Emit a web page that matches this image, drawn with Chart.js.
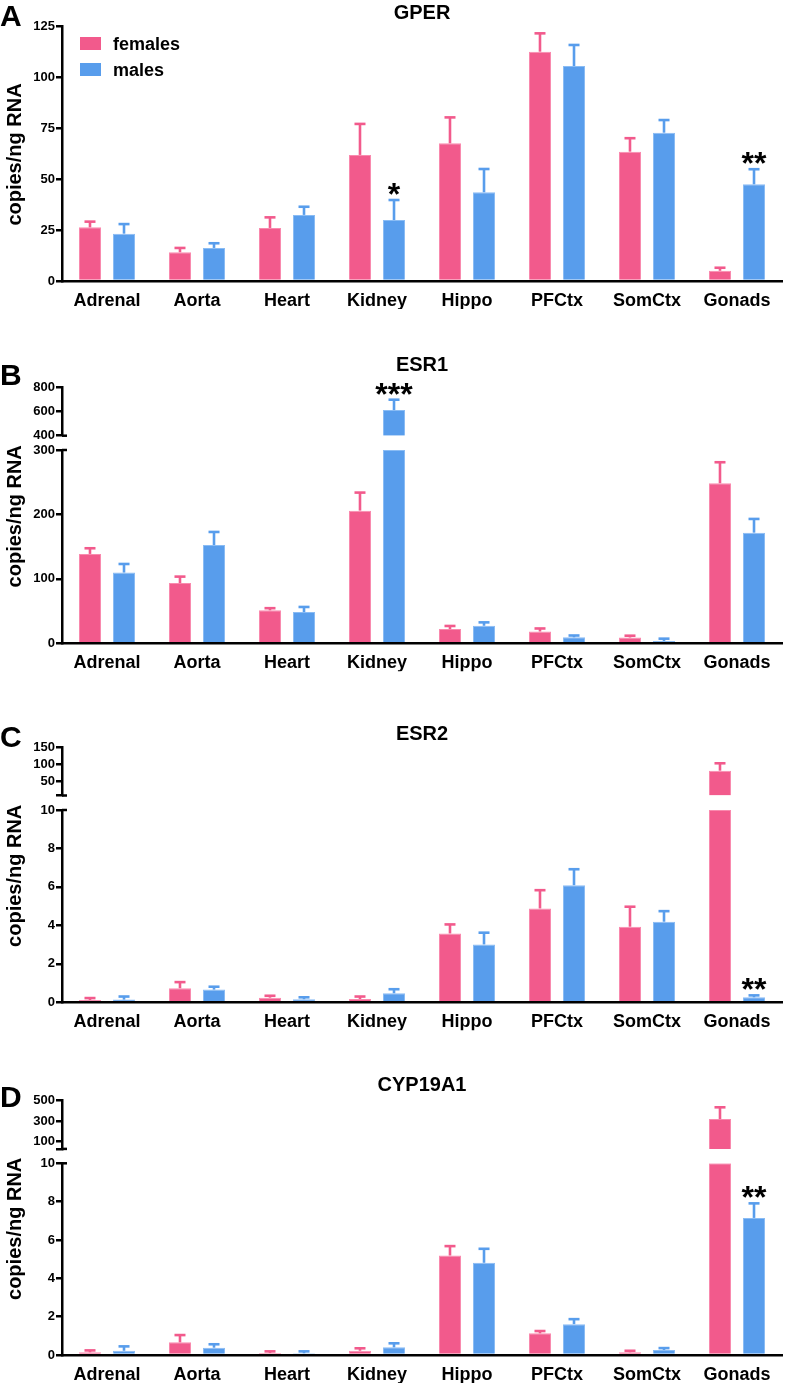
<!DOCTYPE html>
<html><head><meta charset="utf-8">
<script src="https://cdn.jsdelivr.net/npm/chart.js@4.4.1/dist/chart.umd.min.js"></script>
<style>
html,body{margin:0;padding:0;background:#fff;}
#wrap{position:relative;width:785px;height:1385px;overflow:hidden;background:#fff;}
canvas{position:absolute;left:0;}
</style></head><body>
<div id="wrap">
<canvas id="cA" width="785" height="330" style="top:0px"></canvas>
<canvas id="cB" width="785" height="360" style="top:330px"></canvas>
<canvas id="cC" width="785" height="360" style="top:690px"></canvas>
<canvas id="cD" width="785" height="335" style="top:1050px"></canvas>
</div>
<script>
// ---------------- DATA ----------------
const categories = ['Adrenal', 'Aorta', 'Heart', 'Kidney', 'Hippo', 'PFCtx', 'SomCtx', 'Gonads'];
const seriesLabels = ['females', 'males'];
const yAxisTitle = 'copies/ng RNA';

// GPER (mean, mean+SEM)
const gperFemale    = [26.3, 14.1, 26.0, 61.8, 67.5, 112.4, 63.4, 5.0];
const gperFemaleErr = [29.1, 16.2, 31.2, 77.0, 80.2, 121.4, 70.0, 6.5];
const gperMale      = [23.2, 16.2, 32.4, 29.9, 43.5, 105.4, 72.7, 47.4];
const gperMaleErr   = [27.9, 18.5, 36.4, 39.7, 54.9, 115.7, 78.9, 54.8];
const gperSig       = ['', '', '', '*', '', '', '', '**'];
const gperTicks     = [0, 25, 50, 75, 100, 125];

// ESR1
const esr1Female    = [138.7, 93.4, 51.2, 205.9, 22.0, 18.3, 9.0, 248.4];
const esr1FemaleErr = [147.5, 103.5, 54.5, 233.9, 26.9, 23.0, 11.8, 281.0];
const esr1Male      = [109.8, 152.6, 48.4, 612.0, 27.2, 9.3, 3.6, 171.7];
const esr1MaleErr   = [123.1, 172.8, 56.4, 697.5, 32.5, 12.1, 7.2, 193.0];
const esr1Sig       = ['', '', '', '***', '', '', '', ''];
const esr1LowerTicks = [0, 100, 200, 300];
const esr1UpperTicks = [400, 600, 800];

// ESR2
const esr2Female    = [0.12, 0.73, 0.24, 0.17, 3.58, 4.88, 3.93, 82.0];
const esr2FemaleErr = [0.22, 1.05, 0.34, 0.30, 4.05, 5.83, 4.97, 103.6];
const esr2Male      = [0.14, 0.66, 0.16, 0.47, 3.01, 6.09, 4.19, 0.26];
const esr2MaleErr   = [0.30, 0.81, 0.26, 0.68, 3.62, 6.92, 4.74, 0.36];
const esr2Sig       = ['', '', '', '', '', '', '', '**'];
const esr2LowerTicks = [0, 2, 4, 6, 8, 10];
const esr2UpperTicks = [50, 100, 150];
const esr2UpperMin = 10;

// CYP19A1
const cypFemale    = [0.14, 0.66, 0.10, 0.22, 5.19, 1.13, 0.14, 321.0];
const cypFemaleErr = [0.24, 1.04, 0.19, 0.35, 5.68, 1.25, 0.22, 435.6];
const cypMale      = [0.22, 0.38, 0.09, 0.40, 4.81, 1.61, 0.26, 7.15];
const cypMaleErr   = [0.45, 0.56, 0.19, 0.61, 5.54, 1.87, 0.36, 7.91];
const cypSig       = ['', '', '', '', '', '', '', '**'];
const cypLowerTicks = [0, 2, 4, 6, 8, 10];
const cypUpperTicks = [100, 300, 500];
const cypUpperMin = 30;

// ---------------- STYLE ----------------
Chart.defaults.font.family = "'Liberation Sans', Arial, Helvetica, sans-serif";
Chart.defaults.font.weight = 'bold';
Chart.defaults.color = '#000';
const FONT = "'Liberation Sans', Arial, Helvetica, sans-serif";
const PINK = 'rgb(242,90,140)', PINK_EDGE = 'rgb(249,138,174)';
const BLUE = 'rgb(88,157,236)', BLUE_EDGE = 'rgb(138,188,244)';

function yScale(min, max, ticks, labeled, extra) {
  return Object.assign({
    type: 'linear', position: 'left', min: min, max: max, stacked: false,
    afterBuildTicks: s => { s.ticks = ticks.map(v => ({ value: v })); },
    afterFit: s => { s.width = 62; },
    grid: { display: true, drawOnChartArea: false, drawTicks: true, tickLength: 6, color: '#000', lineWidth: 2.5 },
    border: { display: true, color: '#000', width: 2.5 },
    ticks: { autoSkip: false, padding: 1, font: { size: 13, weight: 'bold' }, color: '#000',
             callback: v => labeled.includes(v) ? String(v) : '' }
  }, extra || {});
}

function makePanel(p) {
  const broken = !!p.upTicks;
  const lowData = broken ? p.f.map(v => Math.min(v, p.lowMax)) : p.f.slice();
  const lowDataM = broken ? p.m.map(v => Math.min(v, p.lowMax)) : p.m.slice();
  const datasets = [
    { label: seriesLabels[0], data: lowData, backgroundColor: PINK, borderColor: PINK_EDGE, borderWidth: 1, yAxisID: 'yLow', stack: broken ? 'f' : undefined },
    { label: seriesLabels[1], data: lowDataM, backgroundColor: BLUE, borderColor: BLUE_EDGE, borderWidth: 1, yAxisID: 'yLow', stack: broken ? 'm' : undefined }
  ];
  const scales = {
    x: { type: 'category', offset: true,
         grid: { display: false, drawTicks: false },
         border: { display: true, color: '#000', width: 2.5 },
         ticks: { autoSkip: false, maxRotation: 0, minRotation: 0, padding: 9, font: { size: 18, weight: 'bold' }, color: '#000' },
         afterFit: s => { s.height = 28; } }
  };
  if (broken) {
    const upAll = [p.upMin].concat(p.upTicks.filter(v => v !== p.upMin));
    datasets.push({ label: seriesLabels[0], data: p.f.map(v => v > p.upMin ? [p.upMin, v] : null), backgroundColor: PINK, borderColor: PINK_EDGE, borderWidth: 1, yAxisID: 'yUp', stack: 'f' });
    datasets.push({ label: seriesLabels[1], data: p.m.map(v => v > p.upMin ? [p.upMin, v] : null), backgroundColor: BLUE, borderColor: BLUE_EDGE, borderWidth: 1, yAxisID: 'yUp', stack: 'm' });
    scales.yUp = yScale(p.upMin, p.upTicks[p.upTicks.length - 1], upAll, p.upTicks, { stack: 'y', stackWeight: p.weights[0], weight: 3 });
    scales.yGap = { type: 'linear', display: false, position: 'left', stack: 'y', stackWeight: p.weights[1], weight: 2, min: 0, max: 1 };
    scales.yLow = yScale(0, p.lowMax, p.lowTicks, p.lowTicks, { stack: 'y', stackWeight: p.weights[2], weight: 1 });
  } else {
    scales.yLow = yScale(0, p.lowMax, p.lowTicks, p.lowTicks);
  }

  const decor = {
    id: 'decor' + p.letter,
    afterDatasetsDraw(chart) {
      const ctx = chart.ctx;
      const lo = chart.scales.yLow, up = chart.scales.yUp;
      [[p.f, p.fe, 0, PINK], [p.m, p.me, 1, BLUE]].forEach(([vals, errs, di, col]) => {
        const meta = chart.getDatasetMeta(di);
        vals.forEach((v, i) => {
          const bar = meta.data[i];
          const x = bar.x;
          const sc = (up && v > p.lowMax) ? up : lo;
          const y0 = sc.getPixelForValue(v), y1 = sc.getPixelForValue(errs[i]);
          ctx.save();
          ctx.strokeStyle = col; ctx.lineWidth = 2.6; ctx.lineCap = 'butt';
          ctx.beginPath(); ctx.moveTo(x, y0); ctx.lineTo(x, y1); ctx.stroke();
          ctx.beginPath(); ctx.moveTo(x - 5.5, y1); ctx.lineTo(x + 5.5, y1); ctx.stroke();
          ctx.restore();
        });
      });
    },
    afterDraw(chart) {
      const ctx = chart.ctx;
      const ca = chart.chartArea;
      const lo = chart.scales.yLow, up = chart.scales.yUp;
      ctx.save();
      ctx.fillStyle = '#000';
      // panel letter
      ctx.font = 'bold 30px ' + FONT;
      ctx.textAlign = 'left'; ctx.textBaseline = 'alphabetic';
      ctx.fillText(p.letter, 0, p.letterY);
      // title
      ctx.font = 'bold 20px ' + FONT;
      ctx.textAlign = 'center';
      ctx.fillText(p.title, 422, p.titleY);
      // y title
      ctx.save();
      ctx.translate(15, (ca.top + ca.bottom) / 2 + 1);
      ctx.rotate(-Math.PI / 2);
      ctx.font = 'bold 20px ' + FONT;
      ctx.textAlign = 'center'; ctx.textBaseline = 'middle';
      ctx.fillText(yAxisTitle, 0, 0);
      ctx.restore();
      // legend
      if (p.legend) {
        ctx.fillStyle = PINK; ctx.fillRect(80, 37, 21, 13);
        ctx.fillStyle = BLUE; ctx.fillRect(80, 63, 21, 13);
        ctx.fillStyle = '#000';
        ctx.font = 'bold 18px ' + FONT;
        ctx.textAlign = 'left'; ctx.textBaseline = 'alphabetic';
        ctx.fillText(seriesLabels[0], 113, 50);
        ctx.fillText(seriesLabels[1], 113, 76);
      }
      // significance
      const metaM = chart.getDatasetMeta(1);
      ctx.font = 'bold 32px ' + FONT;
      ctx.textAlign = 'center'; ctx.textBaseline = 'alphabetic';
      p.sig.forEach((s, i) => {
        if (!s) return;
        const v = p.me[i];
        const sc = (up && p.m[i] > p.lowMax) ? up : lo;
        ctx.fillText(s, metaM.data[i].x, sc.getPixelForValue(v) + 5);
      });
      // axis break marks
      if (up) {
        const ax = lo.right;
        ctx.strokeStyle = '#000'; ctx.lineWidth = 2.5;
        [up.bottom, lo.top].forEach(y => {
          ctx.beginPath(); ctx.moveTo(ax, y); ctx.lineTo(ax + 5, y); ctx.stroke();
        });
      }
      ctx.restore();
    }
  };

  return new Chart(document.getElementById(p.canvas), {
    type: 'bar',
    data: { labels: categories, datasets: datasets },
    options: {
      responsive: false, animation: false,
      categoryPercentage: 0.756, barPercentage: 0.647,
      layout: { padding: { top: p.pad[0], bottom: p.pad[1], left: 0, right: 3 } },
      plugins: { legend: { display: false }, tooltip: { enabled: false }, title: { display: false } },
      scales: scales
    },
    plugins: [decor]
  });
}

makePanel({ canvas: 'cA', letter: 'A', title: 'GPER', letterY: 25.5, titleY: 19, legend: true,
  f: gperFemale, fe: gperFemaleErr, m: gperMale, me: gperMaleErr, sig: gperSig,
  lowTicks: gperTicks, lowMax: 125, pad: [26, 21] });

makePanel({ canvas: 'cB', letter: 'B', title: 'ESR1', letterY: 55, titleY: 40.7,
  f: esr1Female, fe: esr1FemaleErr, m: esr1Male, me: esr1MaleErr, sig: esr1Sig,
  lowTicks: esr1LowerTicks, lowMax: 300, upTicks: esr1UpperTicks, upMin: 400,
  weights: [48.4, 14.3, 193.3], pad: [57.3, 18.7] });

makePanel({ canvas: 'cC', letter: 'C', title: 'ESR2', letterY: 57.3, titleY: 50,
  f: esr2Female, fe: esr2FemaleErr, m: esr2Male, me: esr2MaleErr, sig: esr2Sig,
  lowTicks: esr2LowerTicks, lowMax: 10, upTicks: esr2UpperTicks, upMin: esr2UpperMin,
  weights: [48.2, 14.5, 192.3], pad: [57.3, 19.7] });

makePanel({ canvas: 'cD', letter: 'D', title: 'CYP19A1', letterY: 57.3, titleY: 41,
  f: cypFemale, fe: cypFemaleErr, m: cypMale, me: cypMaleErr, sig: cypSig,
  lowTicks: cypLowerTicks, lowMax: 10, upTicks: cypUpperTicks, upMin: cypUpperMin,
  weights: [48.2, 14.4, 191.7], pad: [50.7, 2] });
</script>
</body></html>
